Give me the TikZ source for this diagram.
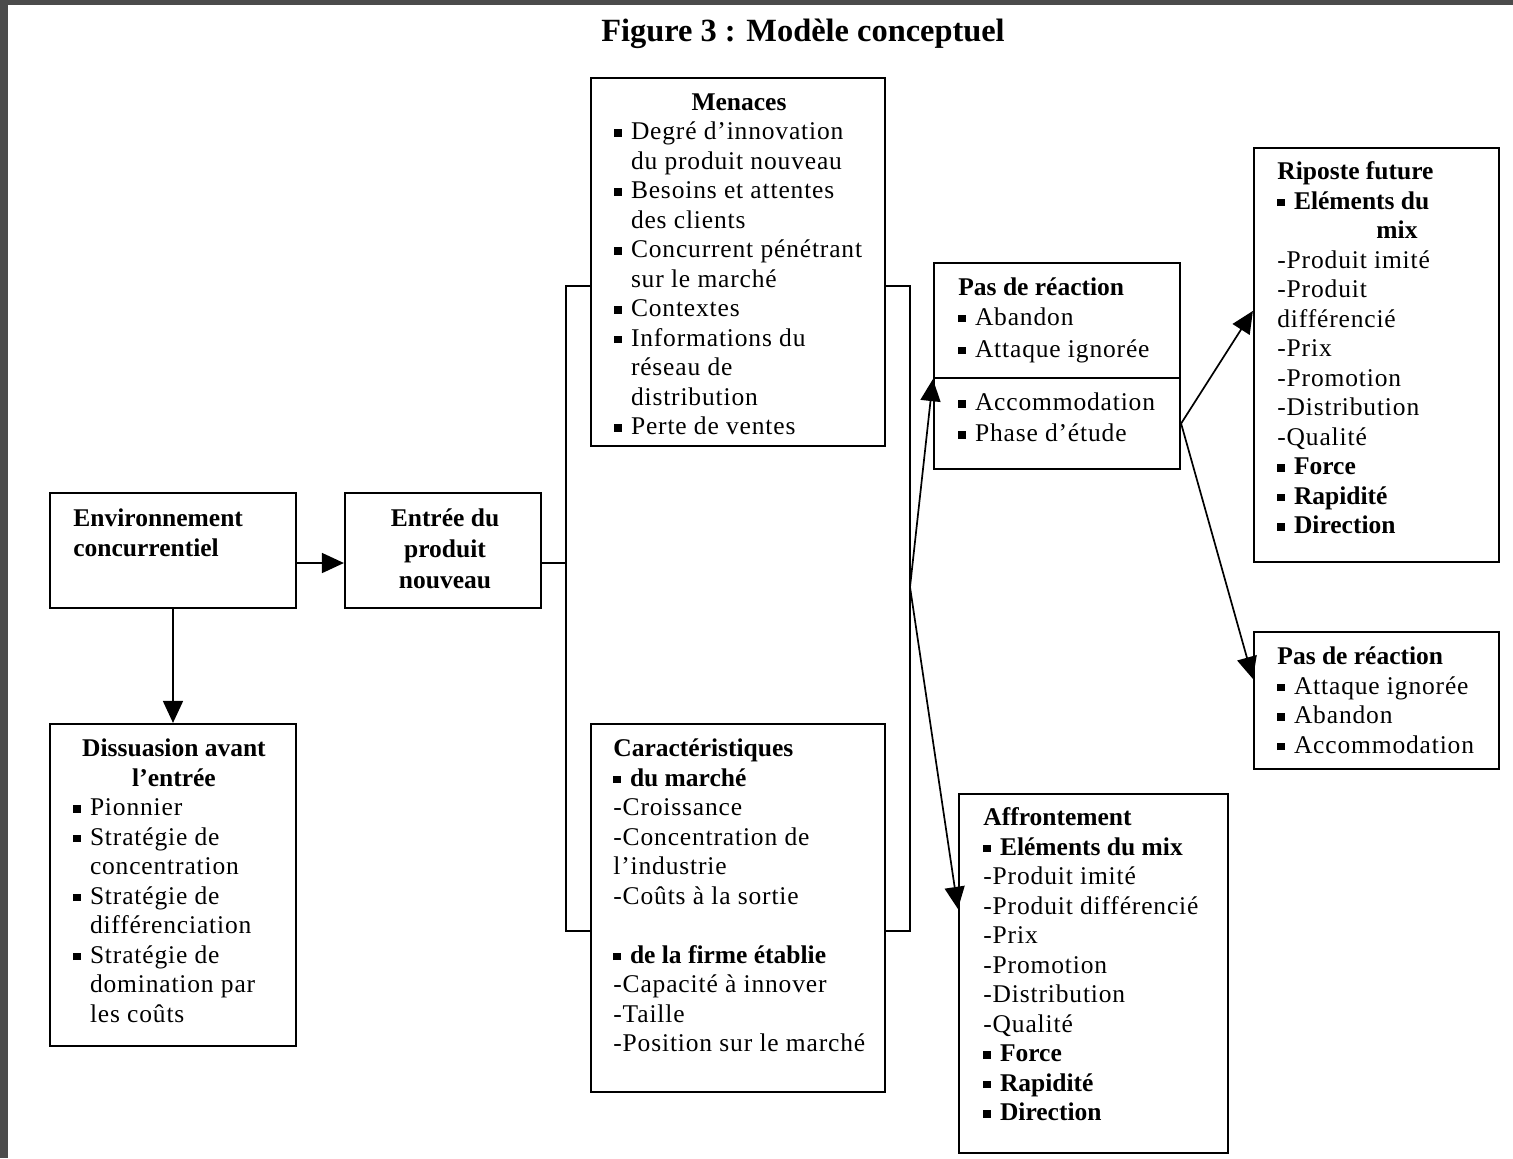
\documentclass[tikz,border=0pt]{standalone}
\usepackage{fontspec}
\setmainfont{Liberation Serif}[LetterSpace=3.3]
\newfontfamily\plainserif{Liberation Serif}
\usetikzlibrary{arrows.meta,fit}
\definecolor{framegray}{HTML}{4B4B4B}
\newcommand\B[1]{{\plainserif\bfseries #1}}
\newcommand\bul{\makebox[8.3pt][l]{\rule[1.6pt]{3.8pt}{3.8pt}}}
\newcommand\ind{\hspace*{8.3pt}}
\newcommand\firstln{\rule{0pt}{11.75pt}}
\tikzset{
  box/.style={draw, line width=1.1pt, inner sep=0pt},
  txt/.style={anchor=north west, inner sep=0pt, align=left, font=\fontsize{12.75}{14.75}\selectfont},
  txtc/.style={anchor=north, inner sep=0pt, align=center, font=\fontsize{12.75}{14.75}\selectfont},
  conn/.style={line width=0.85pt},
  arr/.style={conn, -{Triangle[length=11pt,width=10pt]}}
}
\begin{document}
\begin{tikzpicture}[x=0.5pt,y=-0.5pt]
\useasboundingbox (0,0) rectangle (1513,1158);
\fill[framegray] (0,0) rectangle (1513,1158);
\fill[white] (7.5,5) rectangle (1513,1158);

% title
\node[anchor=base, inner sep=0pt, font=\fontsize{16.2}{19}\selectfont\plainserif\bfseries] (title) at (803,41) {Figure 3 : Modèle conceptuel};

% boxes
\node[box, fit={(50,493) (296,608)}] (env) {};
\node[box, fit={(345,493) (541,608)}] (entree) {};
\node[box, fit={(50,724) (296,1046)}] (diss) {};
\node[box, fit={(591,78) (885,446)}] (menaces) {};
\node[box, fit={(591,724) (885,1092)}] (caract) {};
\node[box, fit={(934,263) (1180,378)}] (pdrA) {};
\node[box, fit={(934,378) (1180,469)}] (pdrB) {};
\node[box, fit={(1254,148) (1499,562)}] (riposte) {};
\node[box, fit={(1254,632) (1499,769)}] (pdr2) {};
\node[box, fit={(959,794) (1228,1153)}] (affront) {};

% texts
\node[txt] (envT) at (73,503) {\firstln\B{Environnement}\\\B{concurrentiel}};
\node[txtc] (entT) at (445,503) {\firstln\B{Entrée du}\\[0.5pt]\B{produit}\\[0.75pt]\B{nouveau}};
\node[txtc] (dissT) at (174,733) {\firstln\B{Dissuasion avant}\\\B{l’entrée}};
\node[txt] (dissL) at (73,792) {\firstln\bul Pionnier\\\bul Stratégie de\\\ind concentration\\\bul Stratégie de\\\ind différenciation\\\bul Stratégie de\\\ind domination par\\\ind les coûts};
\node[txtc] (menT) at (739,87) {\firstln\B{Menaces}};
\node[txt] (menL) at (614,116) {\firstln\bul Degré d’innovation\\\ind du produit nouveau\\\bul Besoins et attentes\\\ind des clients\\\bul Concurrent pénétrant\\\ind sur le marché\\\bul Contextes\\\bul Informations du\\\ind réseau de\\\ind distribution\\\bul Perte de ventes};
\node[txt] (carT) at (613,733) {\firstln\B{Caractéristiques}\\\bul\B{du marché}\\-Croissance\\-Concentration de\\l’industrie\\-Coûts à la sortie\\\mbox{}\\\bul\B{de la firme établie}\\-Capacité à innover\\-Taille\\-Position sur le marché};
\node[txt] (pdrAT) at (958,272) {\firstln\B{Pas de réaction}\\\bul Abandon\\[1.25pt]\bul Attaque ignorée};
\node[txt] (pdrBT) at (958,387) {\firstln\bul Accommodation\\[0.75pt]\bul Phase d’étude};
\node[txt] (ripT) at (1277,156) {\firstln\B{Riposte future}\\\bul\B{Eléments du}\\\hspace*{49.5pt}\B{mix}\\-Produit imité\\-Produit\\différencié\\-Prix\\-Promotion\\-Distribution\\-Qualité\\\bul\B{Force}\\\bul\B{Rapidité}\\\bul\B{Direction}};
\node[txt] (pdr2T) at (1277,641) {\firstln\B{Pas de réaction}\\\bul Attaque ignorée\\\bul Abandon\\\bul Accommodation};
\node[txt] (affT) at (983,802) {\firstln\B{Affrontement}\\\bul\B{Eléments du mix}\\-Produit imité\\-Produit différencié\\-Prix\\-Promotion\\-Distribution\\-Qualité\\\bul\B{Force}\\\bul\B{Rapidité}\\\bul\B{Direction}};

% connectors
\coordinate (bl) at (566,563);
\coordinate (lbT) at (566,286);
\coordinate (lbB) at (566,931);
\coordinate (rbT) at (910,286);
\coordinate (rbB) at (910,931);
\coordinate (split) at (910,587);

\draw[arr] ([yshift=-6.25pt]env.east) -- ([yshift=-6.25pt]entree.west);
\draw[arr] (env.south) -- (diss.north);
\draw[conn] ([yshift=-6.25pt]entree.east) -- (bl);
\draw[conn] (menaces.west |- lbT) -- (lbT) -- (lbB) -- (caract.west |- lbB);
\draw[conn] (menaces.east |- rbT) -- (rbT) -- (rbB) -- (caract.east |- rbB);
\draw[arr] (split) -- (pdrA.south west);
\draw[arr] (split) -- ([yshift=-58pt]affront.north west);
\draw[arr] (pdrB.east) -- ([yshift=-82pt]riposte.north west);
\draw[arr] (pdrB.east) -- ([yshift=-24pt]pdr2.north west);
\end{tikzpicture}
\end{document}
